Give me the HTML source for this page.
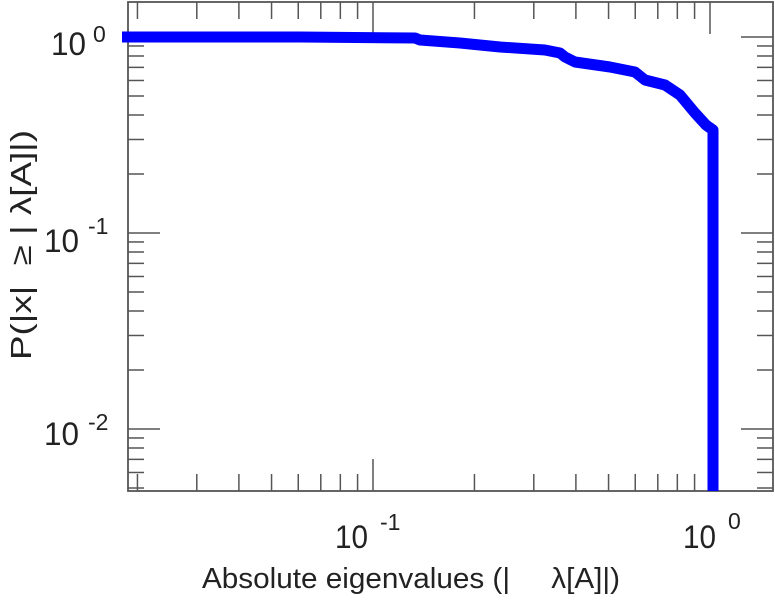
<!DOCTYPE html>
<html><head><meta charset="utf-8"><style>
html,body{margin:0;padding:0;background:#fff;}
svg{display:block;font-family:"Liberation Sans",sans-serif;}
</style></head><body>
<svg id="s" width="775" height="600" viewBox="0 0 775 600" xmlns="http://www.w3.org/2000/svg">
<rect x="0" y="0" width="775" height="600" fill="#fff"/>
<g id="ticks" stroke="#555" stroke-width="1.5"></g>
<rect x="128" y="2" width="645" height="489" fill="none" stroke="#555" stroke-width="1.8"/>
<polyline fill="none" stroke="#0000ff" stroke-width="11" stroke-linejoin="round"
points="122,37 300,37 415,38 420,40 460,43 500,47 545,50 560,53 565,57 575,62 610,67 635,72 645,80 665,85 680,95 695,113 706,125 713,130 713,491"/>
<g fill="#222" font-size="32">
<text x="51" y="55" textLength="35" lengthAdjust="spacingAndGlyphs">10</text><text x="93" y="42" font-size="23">0</text>
<text x="44" y="252" textLength="35" lengthAdjust="spacingAndGlyphs">10</text><text x="88" y="234" font-size="23">-1</text>
<text x="44" y="445" textLength="35" lengthAdjust="spacingAndGlyphs">10</text><text x="88" y="430" font-size="23">-2</text>
<text x="335" y="548" textLength="33" lengthAdjust="spacingAndGlyphs">10</text><text x="380" y="530" font-size="23">-1</text>
<text x="683" y="548" textLength="33" lengthAdjust="spacingAndGlyphs">10</text><text x="728" y="529" font-size="23">0</text>
</g>
<text x="202" y="588" font-size="29" fill="#222" textLength="418" lengthAdjust="spacingAndGlyphs" xml:space="preserve">Absolute eigenvalues (|     λ[A]|)</text>
<text transform="translate(31,360) rotate(-90)" font-size="29" fill="#222" textLength="230" lengthAdjust="spacingAndGlyphs" xml:space="preserve">P(|x|  ≥ | λ[A]|)</text>
</svg>
<script>
var g=document.getElementById('ticks'),ns='http://www.w3.org/2000/svg';
function L(x1,y1,x2,y2){var l=document.createElementNS(ns,'line');l.setAttribute('x1',x1);l.setAttribute('y1',y1);l.setAttribute('x2',x2);l.setAttribute('y2',y2);g.appendChild(l);}
function X(v){return 710+337*Math.log10(v);}
function Y(v){return 37-196*Math.log10(v);}
var xs=[];for(var d=-2;d<=0;d++)for(var m=1;m<10;m++)xs.push([m*Math.pow(10,d),m==1]);
xs.forEach(function(t){var x=X(t[0]);if(x<129||x>772)return;var len=t[1]?32:17;L(x,491,x,491-len);L(x,2,x,2+len);});
var ys=[];for(var d=-3;d<=0;d++)for(var m=1;m<10;m++)ys.push([m*Math.pow(10,d),m==1]);
ys.forEach(function(t){var y=Y(t[0]);if(y<3||y>490)return;var len=t[1]?32:16;L(128,y,128+len,y);L(773,y,773-len,y);});
</script>
</body></html>
